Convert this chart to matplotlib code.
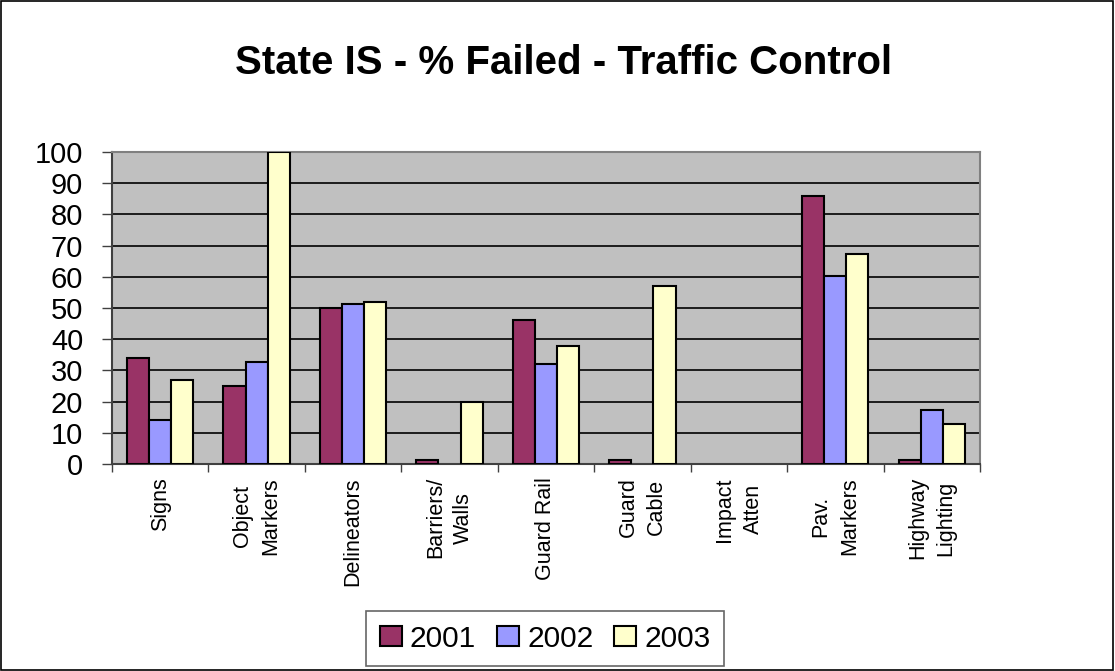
import matplotlib.pyplot as plt
import numpy as np
from matplotlib.patches import Rectangle

plt.rcParams['font.family'] = ['Liberation Sans', 'DejaVu Sans']

categories = ['Signs', 'Object\nMarkers', 'Delineators', 'Barriers/\nWalls', 'Guard Rail',
              'Guard\nCable', 'Impact\nAtten', 'Pav.\nMarkers', 'Highway\nLighting']
years = ['2001', '2002', '2003']
fail_2001 = [34, 25, 50, 1.3, 46, 1.3, 0, 86, 1.3]
fail_2002 = [14, 32.7, 51.3, 0, 32, 0, 0, 60.3, 17.3]
fail_2003 = [27, 100, 51.8, 20, 37.7, 57, 0, 67.2, 12.7]
colors = ['#993366', '#9999FF', '#FFFFCC']

fig = plt.figure(figsize=(11.15, 6.71), dpi=100)
ax = fig.add_axes([0.1004, 0.3085, 0.7785, 0.465])

# chart frame round the whole figure
fig.patches.append(Rectangle((0.001, 0.001), 0.997, 0.997, transform=fig.transFigure,
                             fill=False, edgecolor='black', linewidth=1.2))

x = np.arange(len(categories))
w = 0.229
series = [fail_2001, fail_2002, fail_2003]
for i, (vals, col, yr) in enumerate(zip(series, colors, years)):
    bars = ax.bar(x + (i - 1) * w, vals, width=w, color=col, edgecolor='black',
                  linewidth=1.5, label=yr, zorder=3)
    # empty categories show no bar at all
    for b, v in zip(bars, vals):
        if v == 0:
            b.set_visible(False)

ax.set_facecolor('#C0C0C0')
ax.set_xlim(-0.5, len(categories) - 0.5)
ax.set_ylim(0, 100)
ax.set_yticks(range(0, 101, 10))
ax.yaxis.grid(True, color='black', linewidth=1.2, zorder=1)
ax.tick_params(axis='y', labelsize=21, length=7.2, width=1, color='#404040', pad=13.5)

# category labels at centres, tick marks between categories
ax.set_xticks(x)
ax.set_xticklabels([])
ax.set_xticks(np.arange(-0.5, len(categories), 1.0), minor=True)
ax.tick_params(axis='x', which='major', length=0)
ax.tick_params(axis='x', which='minor', length=6, width=1, color='#404040')
for xi, lab in zip(x, categories):
    ax.text(xi, -4.2, lab, rotation=90, ha='center', va='top', multialignment='center',
            fontsize=15.5, linespacing=1.45)

for side in ['top', 'right']:
    ax.spines[side].set_color('#808080')
    ax.spines[side].set_linewidth(1.5)
for side in ['left', 'bottom']:
    ax.spines[side].set_color('#404040')
    ax.spines[side].set_linewidth(1.5)

fig.text(0.5054, 0.906, 'State IS - % Failed - Traffic Control', ha='center', va='center',
         fontsize=29, fontweight='bold')

leg = fig.legend(loc='center', bbox_to_anchor=(0.489, 0.0484), ncol=3, fontsize=21.5,
                 frameon=True, fancybox=False, edgecolor='#404040', handlelength=0.74,
                 handleheight=0.67, handletextpad=0.27, columnspacing=0.7, borderpad=0.45)
leg.get_frame().set_linewidth(1.2)

fig.savefig('out.png', dpi=100)
